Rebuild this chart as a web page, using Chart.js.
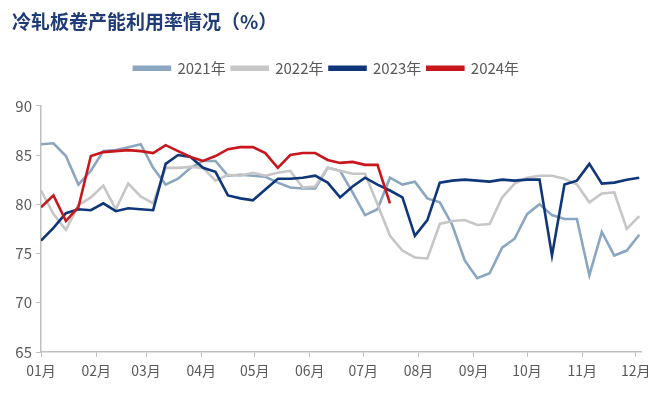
<!DOCTYPE html>
<html>
<head>
<meta charset="utf-8">
<script src="https://cdn.jsdelivr.net/npm/chart.js@4.4.1/dist/chart.umd.min.js"></script>
<style>
  body { margin: 0; background: #fff; }
  #wrap { width: 660px; height: 397px; }
</style>
</head>
<body>
<div id="wrap"><canvas id="util-chart" width="660" height="397"></canvas></div>
<script>
const ctx = document.getElementById('util-chart');

// month ticks (day of year where each month starts)
const monthDays = [0, 31, 59, 90, 120, 151, 181, 212, 243, 273, 304, 334];
const monthLabels = ['01月', '02月', '03月', '04月', '05月', '06月', '07月', '08月', '09月', '10月', '11月', '12月'];

// weekly readings
const y2021 = [86.1, 86.2, 84.9, 82.0, 83.4, 85.4, 85.5, 85.8, 86.1, 83.7, 82.0, 82.6, 83.7, 84.4, 84.4,
    82.9, 83.0, 82.9, 82.8, 82.2, 81.7, 81.6, 81.6, 83.7, 83.4, 81.2, 78.9, 79.5, 82.7, 82.0, 82.3,
    80.6, 80.2, 77.9, 74.3, 72.5, 73.0, 75.6, 76.5, 79.0, 80.0, 78.9, 78.5, 78.5, 72.8, 77.2, 74.8, 75.3, 76.9];
const y2022 = [81.4, 79.0, 77.4, 79.9, 80.7, 81.9, 79.5, 82.1, 80.8, 80.1, 83.7, 83.7, 83.8, 83.7, 82.4,
    83.0, 82.9, 83.2, 82.9, 83.2, 83.4, 81.7, 81.8, 83.7, 83.4, 83.1, 83.1, 80.0, 76.8, 75.3, 74.6,
    74.5, 78.0, 78.3, 78.4, 77.9, 78.0, 80.7, 82.1, 82.7, 82.9, 82.9, 82.6, 82.0, 80.2, 81.1, 81.2, 77.5, 78.8];
const y2023 = [76.3, 77.6, 79.1, 79.5, 79.4, 80.1, 79.3, 79.6, 79.5, 79.4, 84.1, 85.0, 84.8, 83.7, 83.3,
    80.9, 80.6, 80.4, 81.5, 82.6, 82.6, 82.7, 82.9, 82.2, 80.7, 81.8, 82.7, 82.0, 81.4, 80.7, 76.8,
    78.4, 82.2, 82.4, 82.5, 82.4, 82.3, 82.5, 82.4, 82.5, 82.5, 74.8, 82.0, 82.4, 84.1, 82.1, 82.2, 82.5, 82.7];
const y2024 = [79.7, 80.9, 78.3, 79.7, 84.9, 85.3, 85.4, 85.5, 85.4, 85.2, 86.0, 85.4, 84.8, 84.4, 84.9,
    85.6, 85.8, 85.8, 85.2, 83.7, 85.0, 85.2, 85.2, 84.5, 84.2, 84.3, 84.0, 84.0, 80.1];

// one reading per week -> x is the day of the year
function toPoints(vals) {
    return vals.map((v, i) => ({ x: i * 7, y: v }));
}

function series(label, vals, color, order) {
    return {
        label: label,
        data: toPoints(vals),
        borderColor: color,
        backgroundColor: color,
        borderWidth: 2.6,
        pointRadius: 0,
        tension: 0,
        order: order
    };
}

const axisGrey = '#bfbfbf';
const textGrey = '#595959';

// push the plot down below the legend
const legendGap = {
    id: 'legendGap',
    beforeInit(chart) {
        const fit = chart.legend.fit;
        chart.legend.fit = function () {
            fit.bind(chart.legend)();
            this.height += 20;
        };
    }
};

let utilChart = new Chart(ctx, {
    type: 'line',
    data: {
        datasets: [
            series('2021年', y2021, '#8ba6c1', 4),
            series('2022年', y2022, '#c6c6c6', 3),
            series('2023年', y2023, '#0e3679', 2),
            series('2024年', y2024, '#c8161d', 1)
        ]
    },
    options: {
        responsive: false,
        animation: false,
        layout: {
            padding: { left: 12, right: 19, top: 0, bottom: 14 }
        },
        plugins: {
            title: {
                display: true,
                text: '冷轧板卷产能利用率情况（%）',
                align: 'start',
                color: '#1f3c78',
                font: { family: '"Noto Sans CJK SC"', size: 19, weight: 'bold' },
                padding: { top: 10, bottom: 22 }
            },
            legend: {
                display: true,
                labels: {
                    boxWidth: 36,
                    boxHeight: 3,
                    color: textGrey,
                    font: { family: '"Noto Sans CJK SC"', size: 15 },
                    padding: 6,
                    sort: (a, b) => a.datasetIndex - b.datasetIndex
                }
            },
            tooltip: { enabled: false }
        },
        scales: {
            x: {
                type: 'linear',
                min: 0,
                max: 337,
                afterBuildTicks: (axis) => {
                    axis.ticks = monthDays.map(d => ({ value: d }));
                },
                afterFit: (axis) => { axis.height = 31; },
                grid: { display: true, drawOnChartArea: false, drawTicks: true, tickLength: 5, color: axisGrey },
                border: { color: axisGrey, width: 1.5 },
                ticks: {
                    autoSkip: false,
                    maxRotation: 0,
                    padding: 5,
                    color: textGrey,
                    font: { family: '"Noto Sans CJK SC"', size: 14 },
                    callback: (value) => monthLabels[monthDays.indexOf(value)]
                }
            },
            y: {
                min: 65,
                max: 90,
                afterFit: (axis) => { axis.width = 29; },
                grid: { display: true, drawOnChartArea: false, drawTicks: true, tickLength: 5, color: axisGrey },
                border: { color: axisGrey, width: 1.5 },
                ticks: {
                    stepSize: 5,
                    color: textGrey,
                    padding: 4,
                    font: { family: '"Noto Sans CJK SC"', size: 15 }
                }
            }
        }
    },
    plugins: [legendGap]
});
</script>
</body>
</html>
